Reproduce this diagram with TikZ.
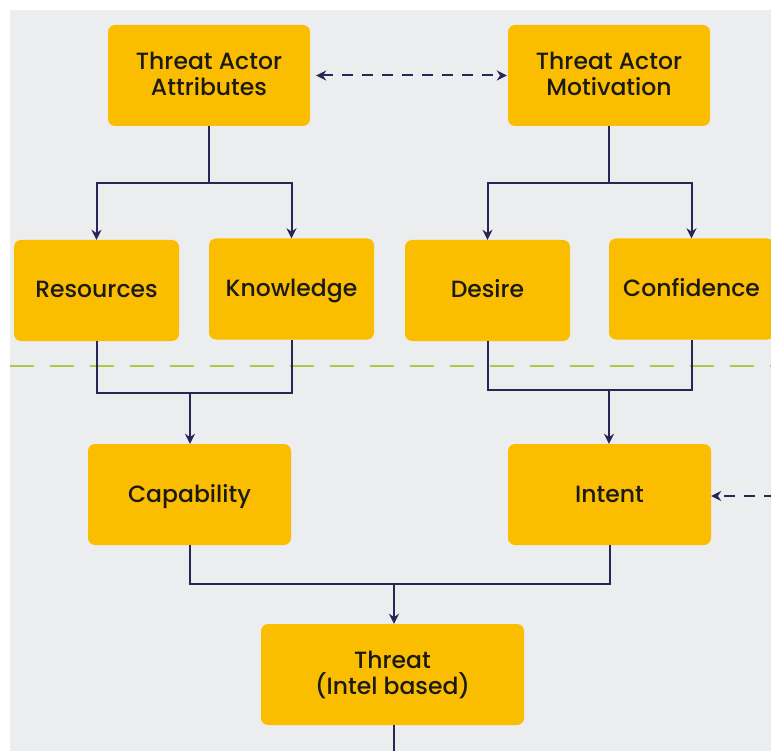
\documentclass[tikz,border=0pt]{standalone}
\usepackage{fontspec}
\setmainfont{Poppins Medium}
\usetikzlibrary{arrows.meta}
\definecolor{bg}{HTML}{ECEDEF}
\definecolor{amber}{HTML}{FBBD00}
\definecolor{navy}{HTML}{2B2457}
\definecolor{lime}{HTML}{A9C94B}
\definecolor{ink}{HTML}{1C1A16}
\tikzset{
  box/.style={draw=none, fill=amber, rounded corners=7pt, align=center, text=ink,
    font=\fontsize{23.5}{26}\selectfont, inner sep=0pt},
  one/.style={text height=17pt, text depth=2pt},
  conn/.style={draw=navy, line width=2pt},
  arr/.style={conn, -{Stealth[length=10pt,width=10pt]}},
  darr/.style={conn, dash pattern=on 11pt off 9pt, {Stealth[length=10pt,width=10pt]}-{Stealth[length=10pt,width=10pt]}},
  dsarr/.style={conn, dash pattern=on 11pt off 9pt, -{Stealth[length=10pt,width=10pt]}},
}
\begin{document}
\begin{tikzpicture}[x=1pt,y=-1pt]
\useasboundingbox (0,0) rectangle (771,751);
\fill[white] (0,0) rectangle (771,751);
\fill[bg] (10,10) rectangle (771,751);
% green dashed separator
\coordinate (gL) at (10,366);
\coordinate (gR) at (771,366);
\draw[lime, line width=2.2pt, dash pattern=on 24pt off 16pt] (gL) -- (gR);
% nodes
\node[box, minimum width=202pt, minimum height=101pt] (taa) at (209,75.5) {Threat Actor\\Attributes\rule{0pt}{0pt}\vspace{3pt}};
\node[box, minimum width=202pt, minimum height=101pt] (tam) at (609,75.5) {Threat Actor\\Motivation\vspace{3pt}};
\node[box, one, minimum width=165pt, minimum height=101pt] (res) at (96.5,290.5) {Resources};
\node[box, one, minimum width=165pt, minimum height=101pt] (know) at (291.5,289) {Knowledge};
\node[box, one, minimum width=165pt, minimum height=101pt] (des) at (487.5,290.5) {Desire};
\node[box, one, minimum width=165pt, minimum height=101pt] (conf) at (691.5,289) {Confidence};
\node[box, one, minimum width=203pt, minimum height=101pt] (cap) at (189.5,494.5) {Capability};
\node[box, one, minimum width=203pt, minimum height=101pt] (int) at (609.5,494.5) {Intent};
\node[box, minimum width=263pt, minimum height=101pt] (thr) at (392.5,674.5) {Threat\\(Intel based)};
% top dashed
\draw[darr, shorten <=6pt, shorten >=1pt] (taa.east) -- (tam.west);
% top splits
\coordinate (j1) at (209,183);
\draw[conn] (taa.south) -- (j1);
\draw[arr] (j1) -| (res.north);
\draw[arr] (j1) -| (know.north);
\coordinate (j2) at (609,183);
\draw[conn] (tam.south) -- (j2);
\draw[arr] (j2) -| (des.north);
\draw[arr] (j2) -| (conf.north);
% merges
\coordinate (j3) at (190,393);
\draw[conn] (res.south) |- (j3) -| (know.south);
\draw[arr] (j3) -- (j3 |- cap.north);
\coordinate (j4) at (609,390);
\draw[conn] (des.south) |- (j4) -| (conf.south);
\draw[arr] (j4) -- (j4 |- int.north);
\coordinate (j5) at (394,584);
\draw[conn] (cap.south) |- (j5) -| (int.south);
\draw[arr] (j5) -- (j5 |- thr.north);
\coordinate (bot) at (394,751);
\draw[conn] (j5 |- thr.south) -- (bot);
% right dashed into Intent
\coordinate (rin) at (775,496);
\draw[dsarr] (rin) -- (int.east |- rin);
\end{tikzpicture}
\end{document}
